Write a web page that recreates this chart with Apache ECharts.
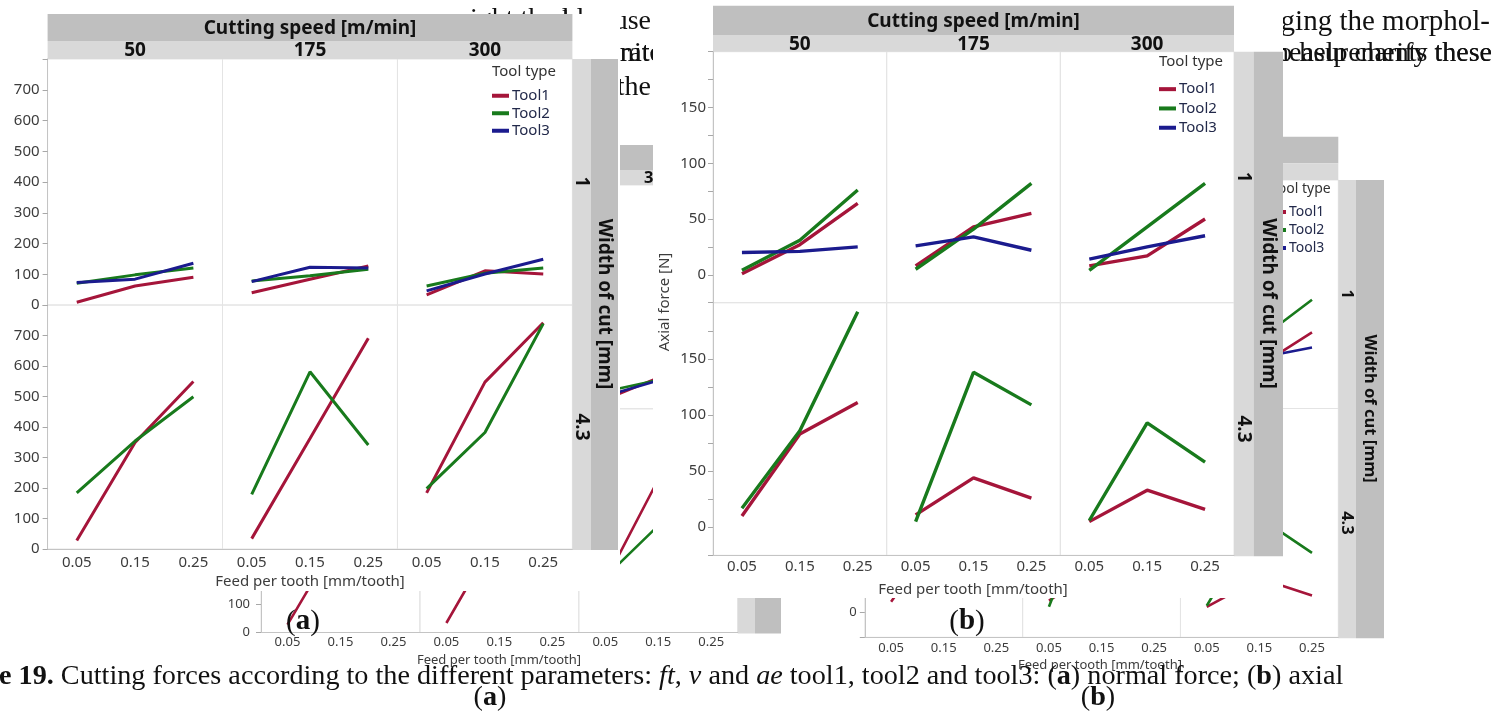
<!DOCTYPE html>
<html>
<head>
<meta charset="utf-8">
<title>Cutting forces</title>
<script src="https://cdn.jsdelivr.net/npm/echarts@6/dist/echarts.min.js"></script>
<style>
  html, body { margin: 0; padding: 0; background: #ffffff; }
  #chart { width: 1509px; height: 713px; }
</style>
</head>
<body>
<div id="chart"></div>
<script>
// ---- levels and tick labels ----
const feedTicks = ['0.05', '0.15', '0.25'];
const speedLevels = ['50', '175', '300'];
const widthLevels = ['1', '4.3'];
const toolNames = ['Tool1', 'Tool2', 'Tool3'];
const toolColors = ['#a5153a', '#187a1c', '#1b1b8e'];

// ---- normal force [N]; each array runs speed 50, 175, 300, each at feed 0.05, 0.15, 0.25 ----
const normalW1Tool1 = [9, 62, 90, 40, 84, 127, 33, 111, 101];
const normalW1Tool2 = [71, 98, 120, 78, 95, 116, 62, 103, 120];
const normalW1Tool3 = [73, 84, 136, 76, 123, 120, 46, 101, 149];
const normalW43Tool1 = [28, 349, 549, 34, 362, 691, 184, 547, 742];
const normalW43Tool2 = [184, 354, 499, 179, 581, 341, 198, 382, 739];

// ---- axial force [N] ----
const axialW1Tool1 = [1, 27, 64, 8, 43, 55, 8, 17, 50];
const axialW1Tool2 = [4, 31, 76, 5, 41, 82, 4, 43, 82];
const axialW1Tool3 = [20, 21, 25, 26, 34, 22, 14, 25, 35];
const axialW43Tool1 = [10, 83, 111, 11, 44, 26, 5, 33, 16];
const axialW43Tool2 = [17, 86, 192, 5, 138, 109, 6, 93, 58];

const normalRows = [[normalW1Tool1, normalW1Tool2, normalW1Tool3], [normalW43Tool1, normalW43Tool2]];
const axialRows = [[axialW1Tool1, axialW1Tool2, axialW1Tool3], [axialW43Tool1, axialW43Tool2]];

const SANS = "'Noto Sans', 'Open Sans', sans-serif";
const SERIF = "'Liberation Serif', 'DejaVu Serif', serif";
const STRIP_DARK = '#bfbfbf';
const STRIP_LIGHT = '#d9d9d9';

const option = {
  animation: false,
  backgroundColor: '#ffffff',
  grid: [], xAxis: [], yAxis: [], series: [], legend: [],
  graphic: { elements: [] }
};
const G = option.graphic.elements;

function rect(x1, y1, x2, y2, fill, z) {
  G.push({ type: 'rect', silent: true, z: z,
    shape: { x: x1, y: y1, width: x2 - x1, height: y2 - y1 }, style: { fill: fill } });
}
function text(x, y, str, o) {
  G.push({ type: 'text', silent: true, z: o.z, x: x, y: y, rotation: o.rot || 0,
    style: { text: str, fontFamily: o.family || SANS, fontSize: o.size, fontWeight: o.weight || 'normal',
      fontStyle: o.style || 'normal', fill: o.color || '#000', align: o.align || 'center',
      verticalAlign: 'middle', rich: o.rich } });
}

// One 2 x 3 trellis: rows = width of cut, columns = cutting speed
function addTrellis(L, rowsData) {
  const pw = (L.right - L.left) / 3;
  const rows = [
    { top: L.plotTop, height: L.split - L.plotTop },
    { top: L.split, height: L.bottom - L.split }
  ];
  const axisLine = { color: '#c4c4c4', width: 1 };
  rows.forEach((row, r) => {
    for (let c = 0; c < 3; c++) {
      const gi = option.grid.length;
      const isBottom = r === 1, isLeft = c === 0;
      option.grid.push({ left: L.left + c * pw, top: row.top, width: pw, height: row.height,
        show: true, borderColor: '#e4e4e4', borderWidth: 1, backgroundColor: 'transparent',
        containLabel: false, outerBoundsMode: 'none', z: L.z });
      option.xAxis.push({ type: 'category', gridIndex: gi, data: feedTicks, boundaryGap: true, z: L.z + 1,
        axisLine: { show: isBottom, onZero: false, lineStyle: axisLine },
        axisTick: { show: false },
        axisLabel: { show: isBottom, margin: L.xMargin, fontSize: L.tick, fontFamily: SANS, color: '#3c3c3c' },
        splitLine: { show: false } });
      option.yAxis.push({ type: 'value', gridIndex: gi, min: L.yMin, max: L.yMax, interval: L.yStep, z: L.z + 1,
        axisLine: { show: isLeft, lineStyle: axisLine },
        axisTick: { show: isLeft, length: 5, lineStyle: { color: '#a8a8a8' } },
        axisLabel: { show: isLeft, margin: L.yMargin, fontSize: L.tick, fontFamily: SANS, color: '#3c3c3c',
          showMinLabel: true, showMaxLabel: true,
          formatter: v => (L.yLabel(v) ? String(v) : '') },
        splitLine: { show: false } });
      rowsData[r].forEach((values, t) => {
        option.series.push({ type: 'line', name: toolNames[t], xAxisIndex: gi, yAxisIndex: gi,
          data: values.slice(c * 3, c * 3 + 3), symbol: 'none', color: toolColors[t],
          lineStyle: { width: L.lw, cap: 'butt' }, z: L.z + 2, silent: true });
      });
    }
  });

  // header: factor title and speed levels
  rect(L.left, L.headTop, L.right, L.headMid, STRIP_DARK, L.z);
  rect(L.left, L.headMid, L.right, L.plotTop, STRIP_LIGHT, L.z);
  text((L.left + L.right) / 2, (L.headTop + L.headMid) / 2 + 1, 'Cutting speed [m/min]',
    { size: L.head, weight: 'bold', color: '#111', z: L.z + 1 });
  speedLevels.forEach((s, c) => text(L.left + pw * (c + 0.5), (L.headMid + L.plotTop) / 2 + 1, s,
    { size: L.head, weight: 'bold', color: '#111', z: L.z + 1 }));

  // right strip: width of cut levels and title
  rect(L.right, L.plotTop, L.stripMid, L.bottom + 1, STRIP_LIGHT, L.z);
  rect(L.stripMid, L.plotTop, L.stripRight, L.bottom + 1, STRIP_DARK, L.z);
  text((L.stripMid + L.stripRight) / 2, (L.plotTop + L.bottom) / 2, 'Width of cut [mm]',
    { size: L.head, weight: 'bold', color: '#111', z: L.z + 1, rot: -Math.PI / 2 });
  widthLevels.forEach((w, r) => text((L.right + L.stripMid) / 2, rows[r].top + rows[r].height / 2, w,
    { size: L.head, weight: 'bold', color: '#111', z: L.z + 1, rot: -Math.PI / 2 }));

  // axis titles
  text(L.xTitle[0], L.xTitle[1], 'Feed per tooth [mm/tooth]', { size: L.tick, color: '#3c3c3c', z: L.z + 1 });
  if (L.yTitle) text(L.yTitle[0], L.yTitle[1], L.yTitle[2], { size: L.tick, color: '#3c3c3c', z: L.z + 1, rot: Math.PI / 2 });

  // legend
  text(L.lg.x, L.lg.titleY, 'Tool type', { size: L.lg.size, color: '#333', align: 'left', z: L.z + 1 });
  option.legend.push({ data: toolNames, orient: 'vertical', left: L.lg.x, top: L.lg.top,
    itemWidth: L.lg.iw, itemHeight: 4, icon: 'rect', itemGap: 0, selectedMode: false, padding: 0, z: L.z + 2,
    textStyle: { fontFamily: SANS, fontSize: L.lg.size, color: '#22294a', lineHeight: L.lg.step, padding: [0, 0, 0, -2] } });
}

// ---- page text around the figure ----
const DOC = { family: SERIF, size: 28, color: '#111', z: 0 };
text(470, 20, 'ight the ld', Object.assign({}, DOC, { align: 'left' }));
text(651, 22, 'because', Object.assign({}, DOC, { align: 'right' }));
text(662, 54, 'finite', Object.assign({}, DOC, { align: 'right' }));
text(662, 54, 'a rate', Object.assign({}, DOC, { align: 'right' }));
text(651, 88, 'the', Object.assign({}, DOC, { align: 'right' }));
text(1490, 22, 'aging the morphol-', Object.assign({}, DOC, { size: 29, align: 'right' }));
text(1492, 54, 'used measurements these', Object.assign({}, DOC, { align: 'right' }));
text(1492, 54, 'to help clarify these', Object.assign({}, DOC, { align: 'right' }));

// ---- figure set behind: (a) and (b) at a smaller size ----
addTrellis({ left: 261, right: 737.7, headTop: 145, headMid: 170, plotTop: 185, split: 408.75, bottom: 632.5,
  stripMid: 755, stripRight: 781, yMin: 0, yMax: 800, yStep: 100, yLabel: v => v <= 700,
  tick: 13, head: 16.5, xMargin: 3, yMargin: 11, lw: 2.6, z: 1,
  xTitle: [499, 660], lg: { x: 665, titleY: 197, top: 206, step: 16, iw: 15, size: 13.5 } }, normalRows);
addTrellis({ left: 864.8, right: 1338.3, headTop: 136.7, headMid: 163.3, plotTop: 180, split: 408.5, bottom: 637.3,
  stripMid: 1356, stripRight: 1384, yMin: -25, yMax: 200, yStep: 25,
  yLabel: v => v >= 0 && v <= 150 && v % 50 === 0,
  tick: 13, head: 16.5, xMargin: 4, yMargin: 8, lw: 2.6, z: 1,
  xTitle: [1100, 665], lg: { x: 1271, titleY: 189, top: 203, step: 18, iw: 15, size: 14 } }, axialRows);

// sub-figure marks of the set behind
const subRich = { n: { fontFamily: SERIF, fontSize: 29, fill: '#111' },
  b: { fontFamily: SERIF, fontSize: 29, fontWeight: 'bold', fill: '#111' } };
text(303, 622, '{n|(}{b|a}{n|)}', { family: SERIF, size: 29, z: 6, rich: subRich });
text(967, 622, '{n|(}{b|b}{n|)}', { family: SERIF, size: 29, z: 6, rich: subRich });

// ---- front figures: white pages, then (a) normal force and (b) axial force ----
rect(0, 14, 620, 591, '#ffffff', 10);
rect(653, 0, 1283, 598, '#ffffff', 10);

addTrellis({ left: 47.6, right: 572.4, headTop: 14, headMid: 41, plotTop: 59, split: 305, bottom: 549,
  stripMid: 591, stripRight: 618, yMin: 0, yMax: 800, yStep: 100, yLabel: v => v <= 700,
  tick: 15, head: 19, xMargin: 6, yMargin: 8, lw: 3, z: 11,
  xTitle: [310, 582], lg: { x: 492, titleY: 72, top: 87, step: 17.5, iw: 17, size: 15 } }, normalRows);
addTrellis({ left: 713, right: 1234, headTop: 5.7, headMid: 35, plotTop: 51.7, split: 302.7, bottom: 555.3,
  stripMid: 1253.6, stripRight: 1283, yMin: -25, yMax: 200, yStep: 25,
  yLabel: v => v >= 0 && v <= 150 && v % 50 === 0,
  tick: 15, head: 19, xMargin: 4, yMargin: 7, lw: 3.4, z: 11,
  xTitle: [973, 590], yTitle: [665, 302, 'Axial force [N]'],
  lg: { x: 1159, titleY: 62, top: 79.5, step: 19.3, iw: 17, size: 15 } }, axialRows);

// ---- caption ----
const CAP = { fontFamily: SERIF, fontSize: 28.2, fill: '#111' };
const capRich = {
  n: Object.assign({}, CAP),
  b: Object.assign({}, CAP, { fontWeight: 'bold' }),
  i: Object.assign({}, CAP, { fontStyle: 'italic' })
};
text(-1, 677, '{b|e 19.}{n| Cutting forces according to the different parameters: }{i|ft}{n|, }{i|v}{n| and }{i|ae}{n| tool1, tool2 and tool3: (}{b|a}{n|) normal force; (}{b|b}{n|) axial}',
  { family: SERIF, size: 28.2, align: 'left', z: 20, rich: capRich });
text(490, 698, '{n|(}{b|a}{n|)}', { family: SERIF, size: 28.2, z: 20, rich: capRich });
text(1098, 698, '{n|(}{b|b}{n|)}', { family: SERIF, size: 28.2, z: 20, rich: capRich });

const chart = echarts.init(document.getElementById('chart'), null, { renderer: 'canvas' });
chart.setOption(option);
</script>
</body>
</html>
